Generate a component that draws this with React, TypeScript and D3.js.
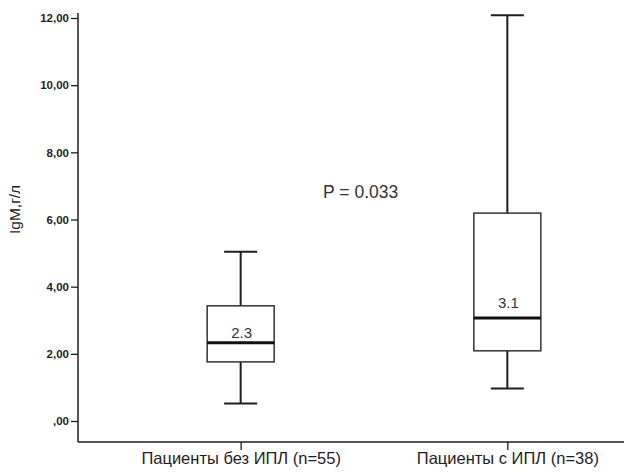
import React, { useRef, useEffect } from "react";
import * as d3 from "d3";

// IgM by patient group (box plot, SPSS style)
const categories = ["Пациенты без ИПЛ (n=55)", "Пациенты с ИПЛ (n=38)"];
const mins = [0.52, 0.97];
const q1s = [1.76, 2.09];
const medians = [2.33, 3.07];
const q3s = [3.43, 6.19];
const maxs = [5.04, 12.08];
const medianLabels = ["2.3", "3.1"];
const yTicks = [0, 2, 4, 6, 8, 10, 12];
const pText = "P = 0.033";
const yTitle = "IgM,г/л";

const FONT = "'Liberation Sans', Arial, sans-serif";
const INK = "#1e1e1e";

export default function App() {
  const svgRef = useRef<SVGSVGElement>(null);

  useEffect(() => {
    const svg = d3.select(svgRef.current);
    svg.selectAll("*").remove();

    const width = 624;
    const height = 475;
    const left = 78;
    const bottom = 442;
    const top = 13;

    const y = d3.scaleLinear().domain([0, 12]).range([421, 18]);
    const x = d3
      .scalePoint<string>()
      .domain(categories)
      .range([left, 670])
      .padding(0.61);

    const rows = categories.map((c, i) => ({
      cat: c,
      min: mins[i],
      q1: q1s[i],
      med: medians[i],
      q3: q3s[i],
      max: maxs[i],
      label: medianLabels[i],
    }));

    const boxW = 67;
    const capW = 33;

    // y axis
    const yAxis = svg.append("g").attr("transform", `translate(${left},0)`);
    yAxis
      .call(
        d3
          .axisLeft(y)
          .tickValues(yTicks)
          .tickSize(7)
          .tickPadding(2)
          .tickSizeOuter(0)
          .tickFormat((d) => d3.format(".2f")(d as number).replace(/^0/, "").replace(".", ","))
      )
      .call((g) => g.select(".domain").remove());
    yAxis.selectAll("line").attr("stroke", INK).attr("stroke-width", 1.3);
    yAxis
      .selectAll("text")
      .attr("fill", INK)
      .style("font-family", FONT)
      .style("font-size", "11.5px")
      .style("font-weight", "bold");
    svg
      .append("line")
      .attr("x1", left)
      .attr("x2", left)
      .attr("y1", top)
      .attr("y2", bottom)
      .attr("stroke", INK)
      .attr("stroke-width", 1.5);

    // x axis
    const xAxis = svg.append("g").attr("transform", `translate(0,${bottom})`);
    xAxis
      .call(d3.axisBottom(x).tickSize(8).tickPadding(2).tickSizeOuter(0))
      .call((g) => g.select(".domain").remove());
    xAxis.selectAll("line").attr("stroke", INK).attr("stroke-width", 1.3);
    xAxis
      .selectAll("text")
      .attr("fill", INK)
      .style("font-family", FONT)
      .style("font-size", "16.5px");
    svg
      .append("line")
      .attr("x1", left)
      .attr("x2", width)
      .attr("y1", bottom)
      .attr("y2", bottom)
      .attr("stroke", INK)
      .attr("stroke-width", 1.5);

    // y title
    svg
      .append("text")
      .attr("transform", `translate(20,${y(6.3)}) rotate(-90)`)
      .attr("text-anchor", "middle")
      .attr("fill", INK)
      .style("font-family", FONT)
      .style("font-size", "15.5px")
      .text(yTitle);

    // boxes
    const g = svg.append("g");
    const box = g
      .selectAll("g.box")
      .data(rows)
      .join("g")
      .attr("class", "box")
      .attr("transform", (d) => `translate(${x(d.cat)},0)`);

    box
      .append("line")
      .attr("y1", (d) => y(d.max))
      .attr("y2", (d) => y(d.q3))
      .attr("stroke", INK)
      .attr("stroke-width", 2);
    box
      .append("line")
      .attr("y1", (d) => y(d.q1))
      .attr("y2", (d) => y(d.min))
      .attr("stroke", INK)
      .attr("stroke-width", 2);
    box
      .append("line")
      .attr("x1", -capW / 2)
      .attr("x2", capW / 2)
      .attr("y1", (d) => y(d.max))
      .attr("y2", (d) => y(d.max))
      .attr("stroke", INK)
      .attr("stroke-width", 2);
    box
      .append("line")
      .attr("x1", -capW / 2)
      .attr("x2", capW / 2)
      .attr("y1", (d) => y(d.min))
      .attr("y2", (d) => y(d.min))
      .attr("stroke", INK)
      .attr("stroke-width", 2);
    box
      .append("rect")
      .attr("x", -boxW / 2)
      .attr("width", boxW)
      .attr("y", (d) => y(d.q3))
      .attr("height", (d) => y(d.q1) - y(d.q3))
      .attr("fill", "#fff")
      .attr("stroke", "#333")
      .attr("stroke-width", 1.5);
    box
      .append("line")
      .attr("x1", -boxW / 2)
      .attr("x2", boxW / 2)
      .attr("y1", (d) => y(d.med))
      .attr("y2", (d) => y(d.med))
      .attr("stroke", "#111")
      .attr("stroke-width", 3);

    const labelGap = [5, 10];
    box
      .append("text")
      .attr("x", 1)
      .attr("y", (d, i) => y(d.med) - labelGap[i])
      .attr("text-anchor", "middle")
      .attr("fill", "#333")
      .style("font-family", FONT)
      .style("font-size", "15px")
      .text((d) => d.label);

    // p value
    svg
      .append("text")
      .attr("x", (x(categories[0]) as number) + x.step() * 0.45)
      .attr("y", y(6.65))
      .attr("text-anchor", "middle")
      .attr("fill", "#333")
      .style("font-family", FONT)
      .style("font-size", "17.5px")
      .text(pText);

    svg.attr("width", width).attr("height", height);
  }, []);

  return (
    <svg
      ref={svgRef}
      width={624}
      height={475}
      style={{ position: "absolute", left: 0, top: 0, background: "#fff" }}
    />
  );
}
